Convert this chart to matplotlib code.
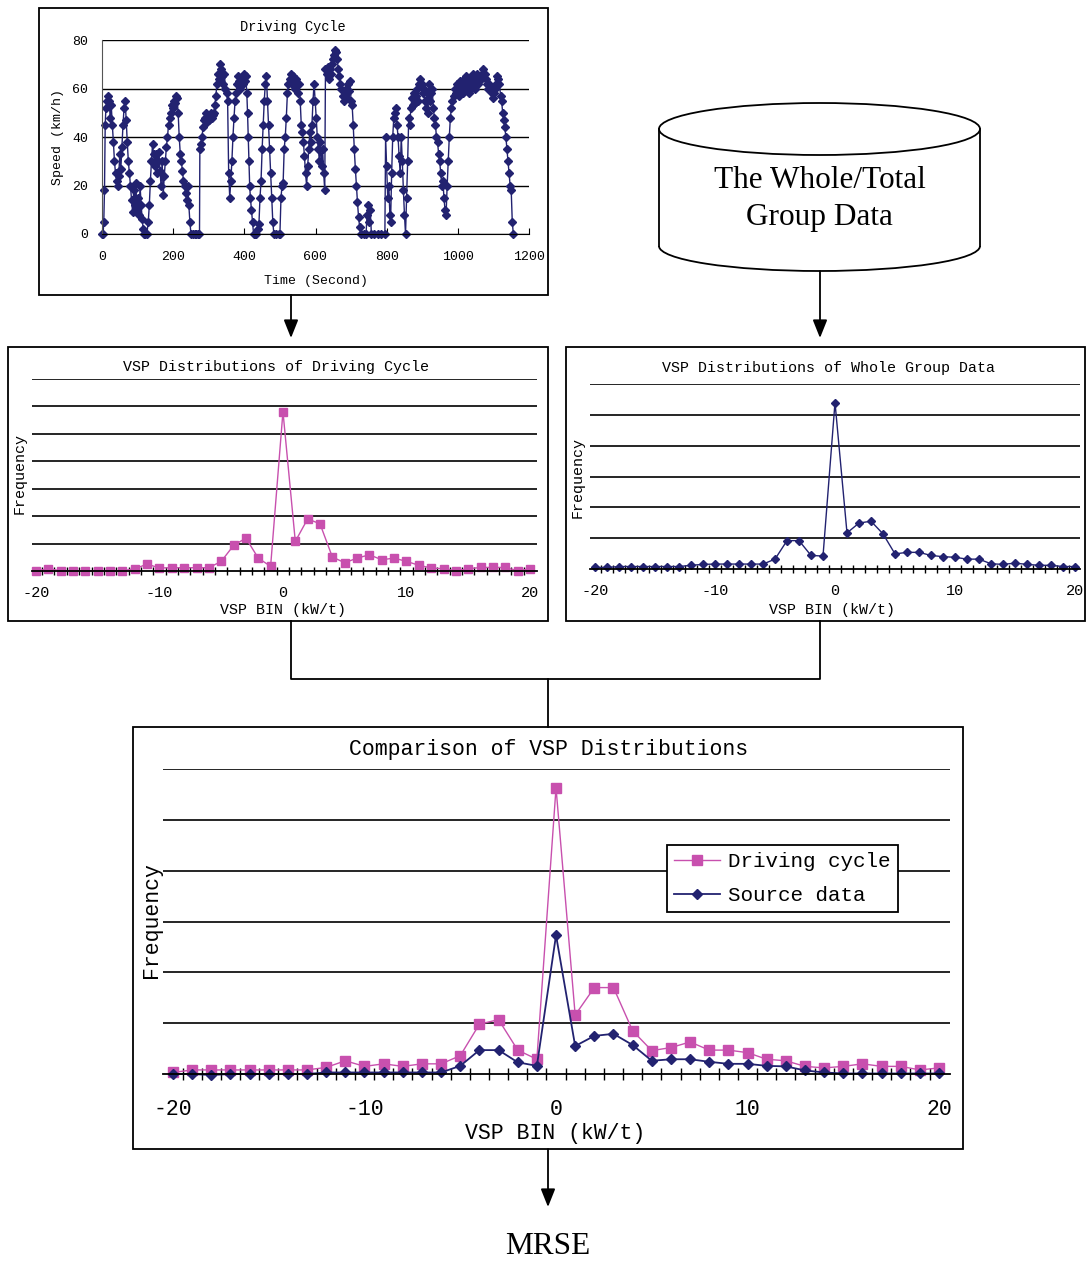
import matplotlib
matplotlib.use('Agg')
import matplotlib.pyplot as plt
from matplotlib.patches import Rectangle, Ellipse, Arc
from matplotlib.ticker import FixedLocator

# ---------------- data ----------------
time_s = [0, 3, 5, 7, 9, 11, 14, 17, 20, 23, 26, 29, 32, 35, 38, 41, 44, 47, 50, 53, 56, 59, 62, 65, 68, 71, 74,
          77, 80, 83, 86, 89, 92, 95, 98, 101, 104, 107, 110, 113, 116, 119, 122, 126, 130, 133, 136, 139, 142,
          145, 148, 151, 154, 157, 160, 163, 166, 169, 172, 175, 178, 181, 184, 187, 190, 193, 196, 199, 202,
          205, 208, 211, 214, 217, 220, 223, 226, 229, 232, 235, 238, 241, 244, 247, 250, 255, 260, 265, 270,
          274, 275, 278, 281, 284, 287, 290, 293, 296, 299, 302, 305, 308, 311, 314, 317, 320, 323, 326, 329,
          332, 335, 338, 341, 344, 347, 350, 353, 356, 359, 362, 365, 368, 371, 374, 377, 380, 383, 386, 389,
          392, 395, 398, 401, 404, 407, 409, 411, 413, 415, 417, 420, 423, 426, 430, 434, 438, 441, 444, 447,
          450, 453, 456, 459, 462, 465, 468, 471, 474, 477, 480, 483, 490, 497, 500, 503, 506, 509, 512, 515,
          518, 521, 524, 527, 530, 533, 536, 539, 542, 545, 548, 551, 554, 557, 560, 563, 566, 569, 572, 575,
          578, 581, 584, 587, 590, 593, 596, 599, 602, 605, 608, 611, 614, 617, 620, 623, 626, 628, 631, 634,
          637, 640, 643, 646, 649, 652, 655, 658, 661, 664, 667, 670, 673, 676, 679, 682, 685, 688, 691, 694,
          697, 700, 703, 706, 709, 712, 715, 718, 721, 724, 727, 735, 742, 745, 748, 751, 754, 757, 765, 775,
          785, 795, 797, 800, 803, 806, 809, 811, 814, 817, 820, 823, 826, 829, 832, 835, 838, 841, 844, 847,
          850, 853, 856, 859, 862, 865, 868, 871, 874, 877, 880, 883, 886, 889, 892, 895, 898, 901, 904, 907,
          910, 913, 916, 919, 922, 925, 928, 931, 934, 937, 940, 943, 946, 949, 952, 955, 958, 961, 964, 967,
          970, 973, 976, 979, 982, 985, 988, 991, 994, 997, 1000, 1003, 1006, 1009, 1012, 1015, 1018, 1021,
          1024, 1027, 1030, 1033, 1036, 1039, 1042, 1045, 1048, 1051, 1054, 1057, 1060, 1063, 1066, 1069,
          1072, 1075, 1078, 1081, 1084, 1087, 1090, 1093, 1096, 1099, 1102, 1105, 1108, 1111, 1114, 1117,
          1120, 1123, 1126, 1129, 1132, 1135, 1138, 1141, 1144, 1147, 1150, 1153, 1156]
speed_kmh = [0, 0, 5, 18, 45, 52, 55, 57, 55, 48, 53, 45, 38, 30, 25, 22, 20, 24, 33, 27, 36, 45, 52, 55, 47, 38,
             30, 25, 20, 14, 9, 18, 12, 21, 10, 15, 8, 20, 12, 6, 2, 0, 0, 0, 5, 12, 22, 30, 37, 33, 28, 33, 25,
             30, 34, 26, 20, 30, 16, 24, 30, 36, 40, 45, 48, 50, 53, 52, 55, 54, 57, 56, 50, 40, 33, 30, 26, 22,
             20, 17, 14, 20, 12, 5, 0, 0, 0, 0, 0, 0, 35, 37, 40, 44, 47, 48, 50, 46, 49, 47, 50, 48, 49, 50, 53,
             57, 62, 66, 64, 70, 68, 65, 62, 66, 60, 58, 55, 25, 15, 22, 30, 40, 48, 55, 58, 62, 65, 63, 60, 64,
             62, 66, 63, 65, 58, 50, 40, 30, 20, 15, 10, 5, 0, 0, 0, 2, 4, 15, 22, 35, 45, 55, 62, 65, 55, 45,
             35, 25, 15, 5, 0, 0, 0, 0, 15, 20, 21, 35, 40, 48, 58, 62, 64, 66, 62, 65, 63, 60, 64, 62, 58, 62,
             55, 45, 42, 38, 32, 25, 20, 28, 35, 42, 38, 45, 55, 62, 55, 48, 40, 35, 30, 38, 28, 35, 25, 18, 68,
             66, 69, 64, 68, 66, 70, 72, 74, 76, 75, 72, 68, 65, 62, 60, 57, 55, 58, 60, 56, 62, 59, 63, 55, 53,
             45, 35, 27, 20, 13, 7, 3, 0, 0, 0, 8, 12, 5, 10, 0, 0, 0, 0, 0, 40, 28, 15, 20, 8, 5, 25, 40, 48,
             50, 52, 45, 40, 32, 25, 40, 30, 18, 8, 0, 15, 30, 48, 45, 52, 56, 53, 58, 54, 57, 60, 55, 62, 64,
             62, 58, 60, 55, 52, 58, 50, 62, 55, 58, 60, 52, 48, 45, 40, 38, 33, 30, 25, 20, 22, 15, 10, 8, 20,
             30, 40, 48, 52, 55, 57, 60, 58, 62, 60, 57, 63, 59, 62, 58, 64, 60, 65, 62, 58, 63, 60, 64, 66, 62,
             60, 64, 66, 62, 63, 65, 64, 66, 68, 66, 64, 62, 60, 62, 61, 60, 58, 56, 58, 60, 62, 65, 64, 62, 57,
             55, 50, 47, 44, 40, 35, 30, 25, 20, 18, 5, 0]

vsp_bins = list(range(-20, 21))
# VSP distribution of the driving cycle (panel units = gridline steps)
dc_freq = [0.0, 0.08, 0.01, 0.01, 0.01, 0.01, 0.01, 0.01, 0.08, 0.25, 0.11, 0.12, 0.12, 0.12, 0.12, 0.35,
           0.93, 1.2, 0.47, 0.17, 5.81, 1.08, 1.9, 1.72, 0.51, 0.30, 0.47, 0.59, 0.41, 0.47, 0.35, 0.21,
           0.11, 0.08, 0.01, 0.08, 0.13, 0.13, 0.13, 0.01, 0.08]
# VSP distribution of whole group data
wg_freq = [0.05, 0.05, 0.08, 0.08, 0.08, 0.08, 0.08, 0.08, 0.12, 0.15, 0.16, 0.16, 0.16, 0.16, 0.16, 0.32,
           0.92, 0.92, 0.44, 0.42, 5.4, 1.17, 1.49, 1.55, 1.14, 0.49, 0.54, 0.54, 0.44, 0.40, 0.38, 0.32,
           0.32, 0.17, 0.15, 0.19, 0.15, 0.12, 0.12, 0.08, 0.08]
# comparison panel
cmp_driving = [0.03, 0.08, 0.08, 0.08, 0.08, 0.08, 0.08, 0.08, 0.13, 0.26, 0.15, 0.2, 0.15, 0.2, 0.2, 0.36,
               0.98, 1.07, 0.47, 0.29, 5.63, 1.16, 1.70, 1.70, 0.85, 0.46, 0.52, 0.63, 0.47, 0.47, 0.42,
               0.29, 0.26, 0.15, 0.12, 0.15, 0.2, 0.15, 0.15, 0.08, 0.12]
cmp_source = [0.0, 0.0, -0.02, 0.0, 0.0, 0.0, 0.0, 0.0, 0.03, 0.03, 0.03, 0.03, 0.03, 0.03, 0.03, 0.16,
              0.47, 0.47, 0.23, 0.16, 2.73, 0.55, 0.75, 0.79, 0.57, 0.26, 0.29, 0.29, 0.24, 0.2, 0.2,
              0.16, 0.15, 0.07, 0.03, 0.01, 0.01, 0.01, 0.01, 0.01, 0.01]

NAVY = '#222270'
PINK = '#C850AE'
MONO = 'Liberation Mono'
SERIF = 'Liberation Serif'

W, H = 1086, 1262
fig = plt.figure(figsize=(W / 100, H / 100), dpi=100)


def ax_px(x0, y0, x1, y1, **kw):
    return fig.add_axes([x0 / W, 1 - y1 / H, (x1 - x0) / W, (y1 - y0) / H], **kw)


# overlay for the flow-chart elements (pixel coordinates)
ov = ax_px(0, 0, W, H)
ov.set_xlim(0, W)
ov.set_ylim(H, 0)
ov.axis('off')
ov.set_zorder(0)

for (x, y, w, h) in [(39, 8, 509, 287), (8, 347, 540, 274), (566, 347, 519, 274), (133, 727, 830, 422)]:
    ov.add_patch(Rectangle((x, y), w, h, fill=False, ec='black', lw=1.3))

# cylinder
cx, cw = 819.5, 321
ov.add_patch(Ellipse((cx, 129), cw, 52, fill=False, ec='black', lw=1.3))
ov.add_patch(Arc((cx, 246), cw, 50, theta1=0, theta2=180, ec='black', lw=1.3))
ov.plot([659, 659], [129, 246], color='black', lw=1.3)
ov.plot([980, 980], [129, 246], color='black', lw=1.3)
ov.text(cx, 180, 'The Whole/Total', ha='center', va='center', family=SERIF, fontsize=22.5)
ov.text(cx, 218, 'Group Data', ha='center', va='center', family=SERIF, fontsize=22.5)

arrow_kw = dict(arrowstyle='-|>,head_length=0.55,head_width=0.22', mutation_scale=20,
                lw=1.3, color='black', shrinkA=0, shrinkB=0)
ov.annotate('', xy=(291, 338), xytext=(291, 295), arrowprops=arrow_kw)
ov.annotate('', xy=(820, 338), xytext=(820, 271), arrowprops=arrow_kw)
ov.annotate('', xy=(548, 1207), xytext=(548, 1149), arrowprops=arrow_kw)
ov.plot([291, 291, 820, 820], [621, 679, 679, 621], color='black', lw=1.3)
ov.plot([548, 548], [679, 727], color='black', lw=1.3)
ov.text(548, 1247, 'MRSE', ha='center', va='center', family=SERIF, fontsize=22.5)

# ---------------- driving cycle ----------------
a1 = ax_px(102, 40, 529, 234)
a1.plot(time_s, speed_kmh, color=NAVY, lw=1.0, marker='D', ms=4.2, mec=NAVY, mfc=NAVY, clip_on=False)
a1.set_xlim(0, 1200)
a1.set_ylim(0, 80)
a1.set_xticks(range(0, 1201, 200))
a1.set_yticks(range(0, 81, 20))
a1.yaxis.grid(True, color='black', lw=1.0)
a1.set_axisbelow(True)
for s in ['top', 'right']:
    a1.spines[s].set_visible(False)
a1.spines['left'].set_color('#555555')
a1.tick_params(axis='x', direction='in', length=4, labelsize=9.5, pad=12)
a1.tick_params(axis='y', length=0, labelsize=9.5, pad=10)
for lab in a1.get_xticklabels() + a1.get_yticklabels():
    lab.set_family(MONO)
a1.set_xlabel('Time (Second)', family=MONO, fontsize=9.5, labelpad=9)
a1.set_ylabel('Speed (km/h)', family=MONO, fontsize=9.5, labelpad=6)
fig.text(293 / W, 1 - 27 / H, 'Driving Cycle', ha='center', va='center', family=MONO, fontsize=9.8)


def vsp_axes(ax, nlines, fs, pad):
    ax.set_ylim(0, nlines)
    ax.set_yticks(range(1, nlines + 1))
    ax.yaxis.grid(True, color='black', lw=1.2)
    ax.set_axisbelow(True)
    for s in ['top', 'right', 'left']:
        ax.spines[s].set_visible(False)
    ax.spines['bottom'].set_linewidth(1.3)
    ax.tick_params(axis='y', length=0, labelleft=False)
    ax.xaxis.set_major_locator(FixedLocator([-20, -10, 0, 10, 20]))
    ax.xaxis.set_minor_locator(FixedLocator([k + 0.5 for k in range(-20, 20)]))
    ax.tick_params(axis='x', which='major', length=0, labelsize=fs, pad=pad)
    ax.tick_params(axis='x', which='minor', direction='inout', length=fs * 0.55, width=1.0)
    ax.set_xticklabels(['-20', '-10', '0', '10', '20'], family=MONO, fontsize=fs)


# ---------------- VSP of driving cycle ----------------
a2 = ax_px(32, 379, 537, 571)
a2.plot(vsp_bins, dc_freq, color=PINK, lw=1.0, marker='s', ms=5.5, clip_on=False)
a2.set_xlim(-20.32, 20.57)
vsp_axes(a2, 7, 11, 11)
fig.text(276 / W, 1 - 367 / H, 'VSP Distributions of Driving Cycle', ha='center', va='center',
         family=MONO, fontsize=10.8)
fig.text(283 / W, 1 - 610 / H, 'VSP BIN (kW/t)', ha='center', va='center', family=MONO, fontsize=10.8)
fig.text(20 / W, 1 - 474 / H, 'Frequency', ha='center', va='center', rotation=90, family=MONO, fontsize=10.8)

# ---------------- VSP of whole group ----------------
a3 = ax_px(590, 384, 1080, 569)
a3.plot(vsp_bins, wg_freq, color=NAVY, lw=1.0, marker='D', ms=4.5, clip_on=False)
a3.set_xlim(-20.42, 20.42)
vsp_axes(a3, 6, 11, 11)
fig.text(829 / W, 1 - 368 / H, 'VSP Distributions of Whole Group Data', ha='center', va='center',
         family=MONO, fontsize=10.8)
fig.text(832 / W, 1 - 610 / H, 'VSP BIN (kW/t)', ha='center', va='center', family=MONO, fontsize=10.8)
fig.text(578 / W, 1 - 477 / H, 'Frequency', ha='center', va='center', rotation=90, family=MONO, fontsize=10.8)

# ---------------- comparison ----------------
a4 = ax_px(163, 769, 950, 1074)
a4.plot(vsp_bins, cmp_driving, color=PINK, lw=1.0, marker='s', ms=7, clip_on=False, label='Driving cycle')
a4.plot(vsp_bins, cmp_source, color=NAVY, lw=1.3, marker='D', ms=5.5, clip_on=False, label='Source data')
a4.set_xlim(-20.52, 20.57)
vsp_axes(a4, 6, 15.5, 18)
leg = a4.legend(loc='upper left', bbox_to_anchor=((667 - 163) / 787, (1074 - 845) / 305),
                prop={'family': MONO, 'size': 15}, frameon=True, fancybox=False, borderpad=0.35,
                handlelength=2.2, handletextpad=0.4, labelspacing=0.7, borderaxespad=0)
leg.get_frame().set_edgecolor('black')
leg.get_frame().set_linewidth(1.3)
leg.get_frame().set_alpha(1)
fig.text(549 / W, 1 - 749 / H, 'Comparison of VSP Distributions', ha='center', va='center',
         family=MONO, fontsize=15.5)
fig.text(555 / W, 1 - 1134 / H, 'VSP BIN (kW/t)', ha='center', va='center', family=MONO, fontsize=15.5)
fig.text(152 / W, 1 - 920 / H, 'Frequency', ha='center', va='center', rotation=90, family=MONO, fontsize=15.5)

fig.savefig('out.png', dpi=100)
